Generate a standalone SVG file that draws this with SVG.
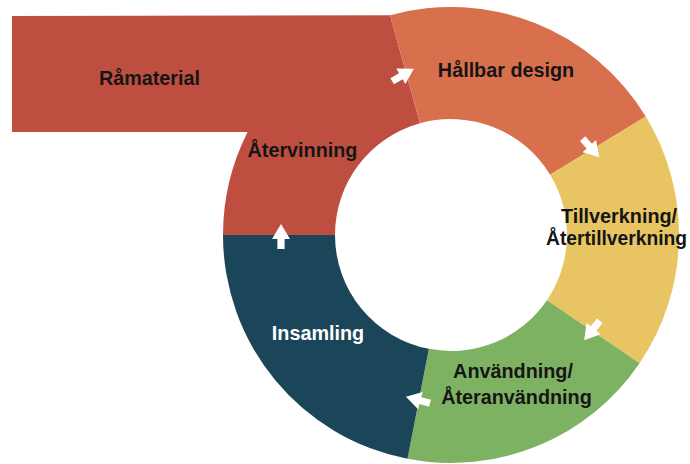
<svg xmlns="http://www.w3.org/2000/svg" xmlns:xlink="http://www.w3.org/1999/xlink" width="690" height="464" viewBox="0 0 690 464">
<defs>
<style>
.lbl{font-family:"Liberation Sans",Arial,Helvetica,sans-serif;font-weight:bold;font-size:19.8px;fill:#151515;text-anchor:middle}
.w{fill:#ffffff}
.arrow{fill:#ffffff}
</style>
<path id="arr" d="M12.5,0 L-2.5,-9 L-2.5,-3.6 L-12.5,-3.6 L-12.5,3.6 L-2.5,3.6 L-2.5,9 Z"/>
</defs>
<rect width="690" height="464" fill="#ffffff"/>
<g id="atervinning">
<path d="M12,16 L390.07,15.29 L420.0,123.22 A116,116 0 0 0 335,235 L223,235 A228,228 0 0 1 247.59,132 L12,132 Z" fill="#BE4F40"/>
<text class="lbl" x="149.5" y="85">Råmaterial</text>
<text class="lbl" x="302.5" y="157">Återvinning</text>
</g>
<g id="hallbar-design">
<path d="M390.07,15.29 A228,228 0 0 1 645.81,116.55 L550.11,174.74 A116,116 0 0 0 420.0,123.22 Z" fill="#D8704E"/>
<text class="lbl" x="506" y="77">Hållbar design</text>
</g>
<g id="tillverkning">
<path d="M645.81,116.55 A228,228 0 0 1 639.57,363.15 L546.94,300.20 A116,116 0 0 0 550.11,174.74 Z" fill="#E8C562"/>
<text class="lbl" x="619" y="223">Tillverkning/</text>
<text class="lbl" x="546" y="245" style="text-anchor:start" textLength="141" lengthAdjust="spacingAndGlyphs">Återtillverkning</text>
</g>
<g id="anvandning">
<path d="M639.57,363.15 A228,228 0 0 1 407.50,458.81 L428.87,348.87 A116,116 0 0 0 546.94,300.20 Z" fill="#7DB263"/>
<text class="lbl" x="513" y="378">Användning/</text>
<text class="lbl" x="516.5" y="404">Återanvändning</text>
</g>
<g id="insamling">
<path d="M407.50,458.81 A228,228 0 0 1 223,235 L335,235 A116,116 0 0 0 428.87,348.87 Z" fill="#1B4559"/>
<text class="lbl w" x="318" y="340">Insamling</text>
</g>
<g id="connectors" class="arrow">
<use xlink:href="#arr" href="#arr" transform="translate(403,75) rotate(-30)"/>
<use xlink:href="#arr" href="#arr" transform="translate(591,148) rotate(48)"/>
<use xlink:href="#arr" href="#arr" transform="translate(592,330.5) rotate(128.5)"/>
<use xlink:href="#arr" href="#arr" transform="translate(418,400) rotate(195)"/>
<use xlink:href="#arr" href="#arr" transform="translate(281,236.5) rotate(-90)"/>
</g>
</svg>
